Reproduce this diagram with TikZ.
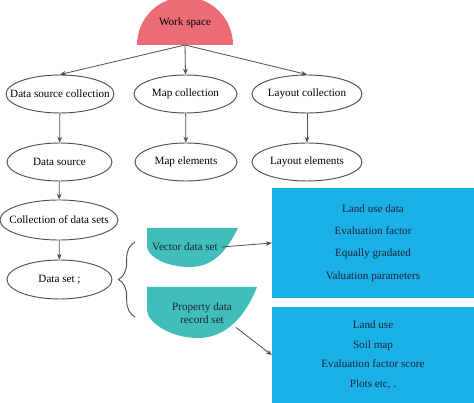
\documentclass[tikz,border=0pt]{standalone}
\usepackage{fontspec}
\setmainfont{Liberation Serif}
\usepackage{tikz}
\usetikzlibrary{shapes.geometric,arrows.meta,positioning,decorations.pathreplacing}
\definecolor{wspink}{RGB}{236,108,118}
\definecolor{dsteal}{RGB}{66,190,186}
\definecolor{tblue}{RGB}{27,176,230}
\definecolor{lndark}{RGB}{80,80,80}
\definecolor{txnavy}{RGB}{25,35,60}

\begin{document}
\begin{tikzpicture}[x=0.03cm,y=-0.03cm,
    every node/.style={font=\fontsize{9.5}{11}\selectfont},
    ell/.style={ellipse,draw=lndark,line width=0.8pt,inner sep=0pt,
                minimum height=1.14cm},
    arr/.style={-{Stealth[length=5pt,width=4pt]},line width=0.7pt,lndark},
    tbox/.style={fill=tblue,minimum width=6.06cm,align=center,text=txnavy}
  ]
    \useasboundingbox (0,0) rectangle (474,403);

    \fill[wspink] (137,45) arc[start angle=180,end angle=360,radius=48] -- cycle;
    \node (ws) at (185,23) {Work space};
    \coordinate (wsb) at (185,45);

    \node[ell,minimum width=3.24cm,label=center:Data source collection] (dsc) at (60,94) {};
    \node[ell,minimum width=3.09cm,label=center:Map collection] (mc) at (185.5,94) {};
    \node[ell,minimum width=3.3cm,label=center:Layout collection] (lc) at (307,94) {};

    \node[ell,minimum width=3.15cm,label=center:Data source] (ds) at (59.5,162) {};
    \node[ell,minimum width=3.06cm,label=center:Map elements] (me) at (186,162) {};
    \node[ell,minimum width=3.3cm,label=center:Layout elements] (le) at (307,162) {};

    \node[ell,minimum width=3.54cm,minimum height=1.2cm,label=center:Collection of data sets] (cds) at (59,220) {};
    \node[ell,minimum width=3.15cm,minimum height=1.17cm,label=center:Data set ;] (dset) at (59.5,279.5) {};

    \draw[arr] (wsb) -- (dsc.north);
    \draw[arr] (wsb) -- (mc.north);
    \draw[arr] (wsb) -- (lc.north);
    \draw[arr] (dsc) -- (ds);
    \draw[arr] (mc) -- (me);
    \draw[arr] (lc) -- (le);
    \draw[arr] (ds) -- (cds);
    \draw[arr] (cds) -- (dset);

    \draw[lndark,line width=0.8pt,decorate,decoration={brace,amplitude=0.5cm}]
      (135,317) -- (135,242);

    \fill[dsteal] (147,228) -- (238,228) .. controls (225,255) and (210,267) .. (190,267)
      .. controls (165,267) and (147,256) .. (147,246) -- cycle;
    \fill[dsteal] (147,287) -- (257,287) .. controls (243,322) and (222,338) .. (198,338)
      .. controls (170,338) and (147,322) .. (147,310) -- cycle;
    \node[text=txnavy] (vds) at (185,247) {Vector data set};
    \node[text=txnavy,align=center] (pds) at (202,313) {Property data\\record set};

    \node[tbox,minimum height=3.3cm,font=\fontsize{9.5}{19}\selectfont] (box1) at (373,243)
      {Land use data\\Evaluation factor\\Equally gradated\\Valuation parameters};
    \node[tbox,minimum height=2.88cm,font=\fontsize{9.5}{17}\selectfont] (box2) at (373,355)
      {Land use\\Soil map\\Evaluation factor score\\Plots etc, .};

    \draw[arr] (vds.east) -- (box1.west);
    \draw[arr] (pds.south east) -- (box2.west);
  \end{tikzpicture}
\end{document}
